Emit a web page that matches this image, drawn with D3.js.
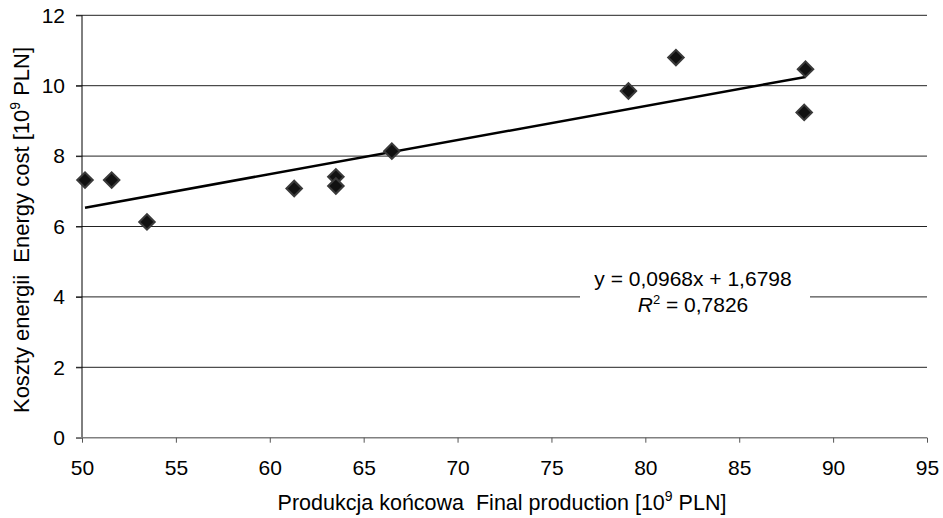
<!DOCTYPE html>
<html>
<head>
<meta charset="utf-8">
<script src="https://cdn.jsdelivr.net/npm/d3@7"></script>
<style>
  body { margin: 0; background: #fff; }
  svg { font-family: "Liberation Sans", Arial, sans-serif; }
  text { white-space: pre; }
</style>
</head>
<body>
<svg id="chart" width="943" height="518"></svg>
<script>
// values
var production = [50.16, 51.58, 53.46, 61.3, 63.52, 63.52, 66.5, 79.1, 81.63, 88.53, 88.46];
var energyCost = [7.32, 7.32, 6.13, 7.08, 7.41, 7.15, 8.14, 9.85, 10.8, 10.47, 9.24];
var xTicks = [50, 55, 60, 65, 70, 75, 80, 85, 90, 95];
var yTicks = [0, 2, 4, 6, 8, 10, 12];
var slope = 0.0968, intercept = 1.6798, r2 = "0,7826";

var svg = d3.select('#chart');
var plotL = 82, plotR = 927, plotT = 15.3, plotB = 437.7;

var x = d3.scaleLinear().domain([50, 95]).range([plotL, plotR]);
var y = d3.scaleLinear().domain([0, 12]).range([plotB, plotT]);

// horizontal grid lines (with outer tick stub)
svg.append('g')
   .selectAll('line')
   .data(yTicks.filter(function(d) { return d > 0; }))
   .enter()
   .append('line')
   .attr('x1', plotL - 6).attr('x2', plotR)
   .attr('y1', function(d) { return y(d); })
   .attr('y2', function(d) { return y(d); })
   .attr('stroke', '#222').attr('stroke-width', 1);

// y axis
var yAxis = svg.append('g')
   .attr('transform', 'translate(' + plotL + ',0)')
   .call(d3.axisLeft(y).tickValues(yTicks).tickSize(6).tickPadding(11));
yAxis.select('.domain').attr('stroke', '#000').attr('d', 'M0,' + plotT + 'V' + plotB);
yAxis.selectAll('.tick line').attr('stroke', '#222');
yAxis.selectAll('text').attr('font-size', 21).attr('fill', '#000')
     .attr('font-family', '"Liberation Sans", Arial, sans-serif');

// x axis
var xAxis = svg.append('g')
   .attr('transform', 'translate(0,' + plotB + ')')
   .call(d3.axisBottom(x).tickValues(xTicks).tickSize(5).tickPadding(17));
xAxis.select('.domain').attr('stroke', '#808080').attr('stroke-width', 1.5)
     .attr('d', 'M' + (plotL - 6) + ',0H' + plotR);
xAxis.selectAll('.tick line').attr('stroke', '#555');
xAxis.selectAll('text').attr('font-size', 21).attr('fill', '#000')
     .attr('font-family', '"Liberation Sans", Arial, sans-serif');

// trend line
var xs = d3.extent(production);
svg.append('line')
   .attr('x1', x(xs[0])).attr('y1', y(slope * xs[0] + intercept))
   .attr('x2', x(xs[1])).attr('y2', y(slope * xs[1] + intercept))
   .attr('stroke', '#000').attr('stroke-width', 2.5);

// points
var diamond = d3.symbol().type(d3.symbolSquare).size(120);
svg.append('g')
   .selectAll('path')
   .data(production)
   .enter()
   .append('path')
   .attr('d', diamond)
   .attr('transform', function(d, i) {
      return 'translate(' + x(d) + ',' + y(energyCost[i]) + ') rotate(45)';
   })
   .attr('fill', '#111').attr('stroke', '#3a3a3a').attr('stroke-width', 2);

// equation label
var lab = svg.append('g').attr('transform', 'translate(693,0)');
lab.append('rect').attr('x', -113).attr('y', 268).attr('width', 230).attr('height', 50).attr('fill', '#fff');
lab.append('text').attr('x', 0).attr('y', 286).attr('text-anchor', 'middle')
   .attr('font-size', 21).text('y = 0,0968x + 1,6798');
var r = lab.append('text').attr('x', 0).attr('y', 312).attr('text-anchor', 'middle').attr('font-size', 21);
r.append('tspan').attr('font-style', 'italic').text('R');
r.append('tspan').attr('font-size', 13).attr('dy', -8).text('2');
r.append('tspan').attr('dy', 8).text(' = ' + r2);

// axis titles
var xt = svg.append('text').attr('x', 502).attr('y', 510).attr('text-anchor', 'middle').attr('font-size', 21.5);
xt.append('tspan').text('Produkcja końcowa  Final production [10');
xt.append('tspan').attr('font-size', 14).attr('dy', -9).text('9');
xt.append('tspan').attr('dy', 9).text(' PLN]');

var yt = svg.append('text').attr('transform', 'translate(29,230) rotate(-90)')
   .attr('text-anchor', 'middle').attr('font-size', 22);
yt.append('tspan').text('Koszty energii  Energy cost [10');
yt.append('tspan').attr('font-size', 14).attr('dy', -9).text('9');
yt.append('tspan').attr('dy', 9).text(' PLN]');
</script>
</body>
</html>
